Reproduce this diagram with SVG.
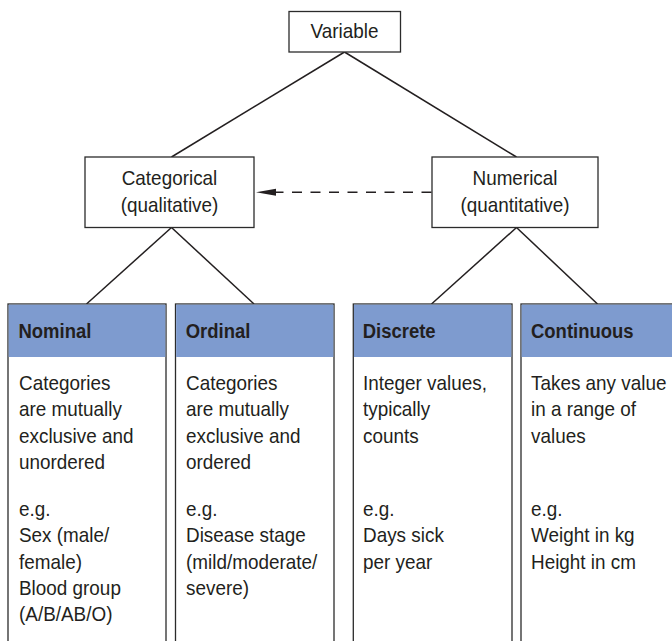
<svg xmlns="http://www.w3.org/2000/svg" width="672" height="641" viewBox="0 0 672 641">
<defs>
<style>
.box{fill:#fff;stroke:#2b2b2b;stroke-width:1.3}
.hdr{fill:#7e9bcf}
.t{font-family:"Liberation Sans",Arial,sans-serif;font-size:21px;fill:#231f20}
.b{font-family:"Liberation Sans",Arial,sans-serif;font-size:21px;font-weight:bold;fill:#231f20}
.c{text-anchor:middle}
.ln{stroke:#231f20;stroke-width:1.5;fill:none}
.dash{stroke:#231f20;stroke-width:1.5;fill:none;stroke-dasharray:10 8.5}
</style>
<marker id="ah" viewBox="0 0 19 8" refX="19" refY="4" markerWidth="19" markerHeight="8" markerUnits="userSpaceOnUse" orient="auto">
<path d="M0,0 L19,4 L0,8 Z" fill="#231f20" transform="rotate(0)"/>
</marker>
</defs>
<rect width="672" height="641" fill="#fff"/>

<g id="connectors">
<line class="ln" x1="344.5" y1="52" x2="171.5" y2="157"/>
<line class="ln" x1="344.5" y1="52" x2="516.5" y2="157"/>
<line class="ln" x1="171.5" y1="227.5" x2="86.5" y2="304"/>
<line class="ln" x1="171.5" y1="227.5" x2="254" y2="304"/>
<line class="ln" x1="516.5" y1="227.5" x2="431.5" y2="304"/>
<line class="ln" x1="516.5" y1="227.5" x2="597.5" y2="304"/>
<line class="dash" x1="431.5" y1="192.3" x2="276" y2="192.3"/>
<path d="M256,192.3 L276,188.8 L276,195.8 Z" fill="#231f20"/>
</g>

<g id="variable">
<rect class="box" x="289" y="11.5" width="111.5" height="40.5"/>
<g transform="translate(344.5,0) scale(0.9,1)"><text class="t c" x="0" y="38">Variable</text></g>
</g>

<g id="categorical">
<rect class="box" x="85" y="157" width="169" height="70.5"/>
<g transform="translate(169.5,0) scale(0.9,1)"><text class="t c" x="0" y="185">Categorical</text><text class="t c" x="0" y="212">(qualitative)</text></g>
</g>

<g id="numerical">
<rect class="box" x="432" y="157" width="166" height="70.5"/>
<g transform="translate(515,0) scale(0.9,1)"><text class="t c" x="0" y="185">Numerical</text><text class="t c" x="0" y="212">(quantitative)</text></g>
</g>

<g id="nominal">
<rect class="box" x="8" y="304" width="158" height="400"/>
<rect class="hdr" x="8.65" y="304.65" width="156.7" height="52.35"/>
<g transform="translate(18.5,0) scale(0.88,1)"><text class="b" x="0" y="338">Nominal</text></g>
<g transform="translate(19,0) scale(0.9,1)">
<text class="t" x="0" y="390">Categories</text>
<text class="t" x="0" y="416.3">are mutually</text>
<text class="t" x="0" y="442.6">exclusive and</text>
<text class="t" x="0" y="469">unordered</text>
<text class="t" x="0" y="516">e.g.</text>
<text class="t" x="0" y="542.3">Sex (male/</text>
<text class="t" x="0" y="568.6">female)</text>
<text class="t" x="0" y="595">Blood group</text>
<text class="t" x="0" y="621.3">(A/B/AB/O)</text>
</g>
</g>

<g id="ordinal">
<rect class="box" x="175.5" y="304" width="158.5" height="400"/>
<rect class="hdr" x="176.15" y="304.65" width="157.2" height="52.35"/>
<g transform="translate(185.7,0) scale(0.88,1)"><text class="b" x="0" y="338">Ordinal</text></g>
<g transform="translate(186,0) scale(0.9,1)">
<text class="t" x="0" y="390">Categories</text>
<text class="t" x="0" y="416.3">are mutually</text>
<text class="t" x="0" y="442.6">exclusive and</text>
<text class="t" x="0" y="469">ordered</text>
<text class="t" x="0" y="516">e.g.</text>
<text class="t" x="0" y="542.3">Disease stage</text>
<text class="t" x="0" y="568.6">(mild/moderate/</text>
<text class="t" x="0" y="595">severe)</text>
</g>
</g>

<g id="discrete">
<rect class="box" x="353.3" y="304" width="158.7" height="400"/>
<rect class="hdr" x="353.95" y="304.65" width="157.4" height="52.35"/>
<g transform="translate(362.7,0) scale(0.88,1)"><text class="b" x="0" y="338">Discrete</text></g>
<g transform="translate(363,0) scale(0.9,1)">
<text class="t" x="0" y="390">Integer values,</text>
<text class="t" x="0" y="416.3">typically</text>
<text class="t" x="0" y="442.6">counts</text>
<text class="t" x="0" y="516">e.g.</text>
<text class="t" x="0" y="542.3">Days sick</text>
<text class="t" x="0" y="568.6">per year</text>
</g>
</g>

<g id="continuous">
<rect class="box" x="521" y="304" width="200" height="400"/>
<rect class="hdr" x="521.65" y="304.65" width="198.7" height="52.35"/>
<g transform="translate(531,0) scale(0.88,1)"><text class="b" x="0" y="338">Continuous</text></g>
<g transform="translate(531,0) scale(0.9,1)">
<text class="t" x="0" y="390">Takes any value</text>
<text class="t" x="0" y="416.3">in a range of</text>
<text class="t" x="0" y="442.6">values</text>
<text class="t" x="0" y="516">e.g.</text>
<text class="t" x="0" y="542.3">Weight in kg</text>
<text class="t" x="0" y="568.6">Height in cm</text>
</g>
</g>
</svg>
